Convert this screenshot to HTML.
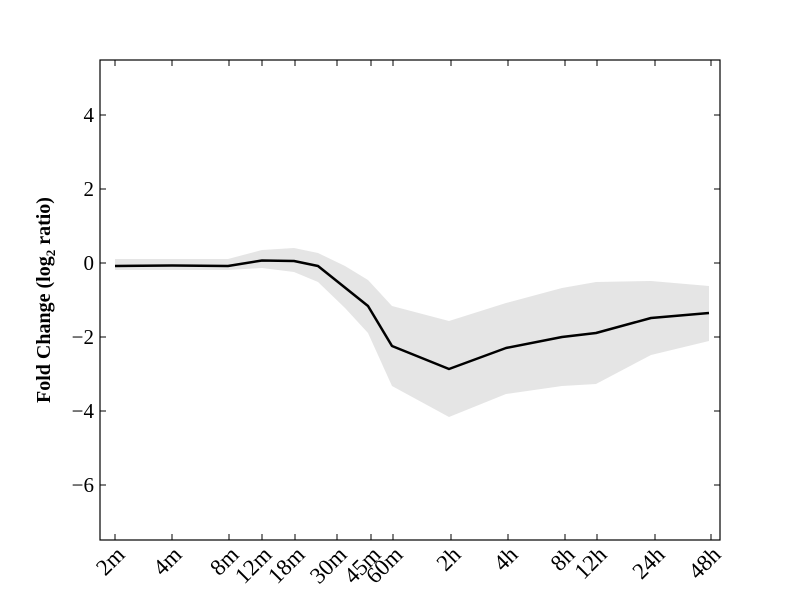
<!DOCTYPE html>
<html><head><meta charset="utf-8"><style>body{margin:0;background:#fff}</style></head><body>
<svg width="800" height="600" xmlns="http://www.w3.org/2000/svg" font-family="Liberation Serif, serif">
<rect width="800" height="600" fill="#fff"/>
<polygon fill="#e5e5e5" points="115,259 228,259 262,250 294,248 318,253 345,266 368,280 392,306 449,321 506,303 562,288 596,282 651,281 709,286 709,341 651,355 596,384 562,386 506,394 449,417 392,386 368,333 345,308 318,282 294,272 262,268 228,270 115,270"/>
<polyline fill="none" stroke="#000" stroke-width="2.5" stroke-linejoin="round" points="115,266 172,265.5 228,266 262,260.5 294,261 318,266 368,306 392,346 449,369 506,348 562,337 596,333 651,318 709,313"/>
<rect x="100" y="60" width="620" height="480" fill="none" stroke="#000" stroke-width="1.2"/>
<g stroke="#000" stroke-width="1">
<path d="M100,115h6M100,189h6M100,263h6M100,337h6M100,411h6M100,485h6M720,115h-6M720,189h-6M720,263h-6M720,337h-6M720,411h-6M720,485h-6"/>
<path d="M115,540v-6M172,540v-6M229,540v-6M262,540v-6M295,540v-6M337,540v-6M371,540v-6M393,540v-6M451,540v-6M508,540v-6M565,540v-6M597,540v-6M655,540v-6M711,540v-6M115,60v6M172,60v6M229,60v6M262,60v6M295,60v6M337,60v6M371,60v6M393,60v6M451,60v6M508,60v6M565,60v6M597,60v6M655,60v6M711,60v6"/>
</g>
<g font-size="21" text-anchor="end">
<text x="94" y="122">4</text><text x="94" y="196">2</text><text x="94" y="270">0</text>
<text x="94" y="344">−2</text><text x="94" y="418">−4</text><text x="94" y="492">−6</text>
</g>
<g font-size="23" text-anchor="end">
<text transform="translate(126,556) rotate(-45)">2m</text>
<text transform="translate(183,556) rotate(-45)">4m</text>
<text transform="translate(240,556) rotate(-45)">8m</text>
<text transform="translate(273,556) rotate(-45)">12m</text>
<text transform="translate(306,556) rotate(-45)">18m</text>
<text transform="translate(348,556) rotate(-45)">30m</text>
<text transform="translate(382,556) rotate(-45)">45m</text>
<text transform="translate(404,556) rotate(-45)">60m</text>
<text transform="translate(462,556) rotate(-45)">2h</text>
<text transform="translate(519,556) rotate(-45)">4h</text>
<text transform="translate(576,556) rotate(-45)">8h</text>
<text transform="translate(608,556) rotate(-45)">12h</text>
<text transform="translate(666,556) rotate(-45)">24h</text>
<text transform="translate(722,556) rotate(-45)">48h</text>
</g>
<text transform="translate(50,300) rotate(-90)" font-size="20" font-weight="bold" text-anchor="middle">Fold Change (log<tspan font-size="13" dy="5">2</tspan><tspan dy="-5"> ratio)</tspan></text>
</svg>
</body></html>
